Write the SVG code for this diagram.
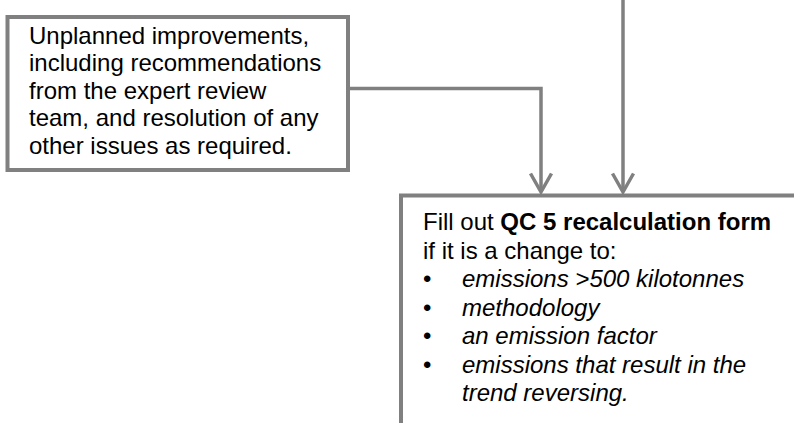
<svg xmlns="http://www.w3.org/2000/svg" width="794" height="423" viewBox="0 0 794 423">
<style>
.box{fill:#fff;stroke:#808080;stroke-width:4}
.conn{fill:none;stroke:#808080;stroke-width:3.5}
text{font-family:"Liberation Sans",Arial,sans-serif;font-size:24px;fill:#000}
.b{font-weight:bold}
.i{font-style:italic}
</style>
<defs>
<marker id="chev" viewBox="0 0 24 22" refX="12" refY="20" markerWidth="24" markerHeight="22" markerUnits="userSpaceOnUse" orient="auto-start-reverse">
<path d="M1.5,1.5 L12,20 L22.5,1.5" fill="none" stroke="#808080" stroke-width="3.5"/>
</marker>
</defs>
<rect width="794" height="423" fill="#fff"/>
<g id="connectors">
<path class="conn" d="M350,88.5 H541 V192"/>
<path d="M530.5,173.5 L541,192 L551.5,173.5" fill="none" stroke="#808080" stroke-width="3.5"/>
<path class="conn" d="M623,0 V192"/>
<path d="M612.5,173.5 L623,192 L633.5,173.5" fill="none" stroke="#808080" stroke-width="3.5"/>
</g>
<g id="unplanned">
<rect class="box" x="7.5" y="17" width="340.5" height="153"/>
<text x="29" y="43.5">Unplanned improvements,</text>
<text x="29" y="71">including recommendations</text>
<text x="29" y="98.5">from the expert review</text>
<text x="29" y="126">team, and resolution of any</text>
<text x="29" y="153.5">other issues as required.</text>
</g>
<g id="qc5">
<rect class="box" x="401" y="195.5" width="500" height="300"/>
<text x="423" y="230">Fill out <tspan class="b">QC 5 recalculation form</tspan></text>
<text x="423" y="258.5">if it is a change to:</text>
<text x="423" y="287">•</text><text class="i" x="462" y="287">emissions &gt;500 kilotonnes</text>
<text x="423" y="315.5">•</text><text class="i" x="462" y="315.5">methodology</text>
<text x="423" y="344">•</text><text class="i" x="462" y="344">an emission factor</text>
<text x="423" y="372.5">•</text><text class="i" x="462" y="372.5">emissions that result in the</text>
<text class="i" x="462" y="401">trend reversing.</text>
</g>
</svg>
